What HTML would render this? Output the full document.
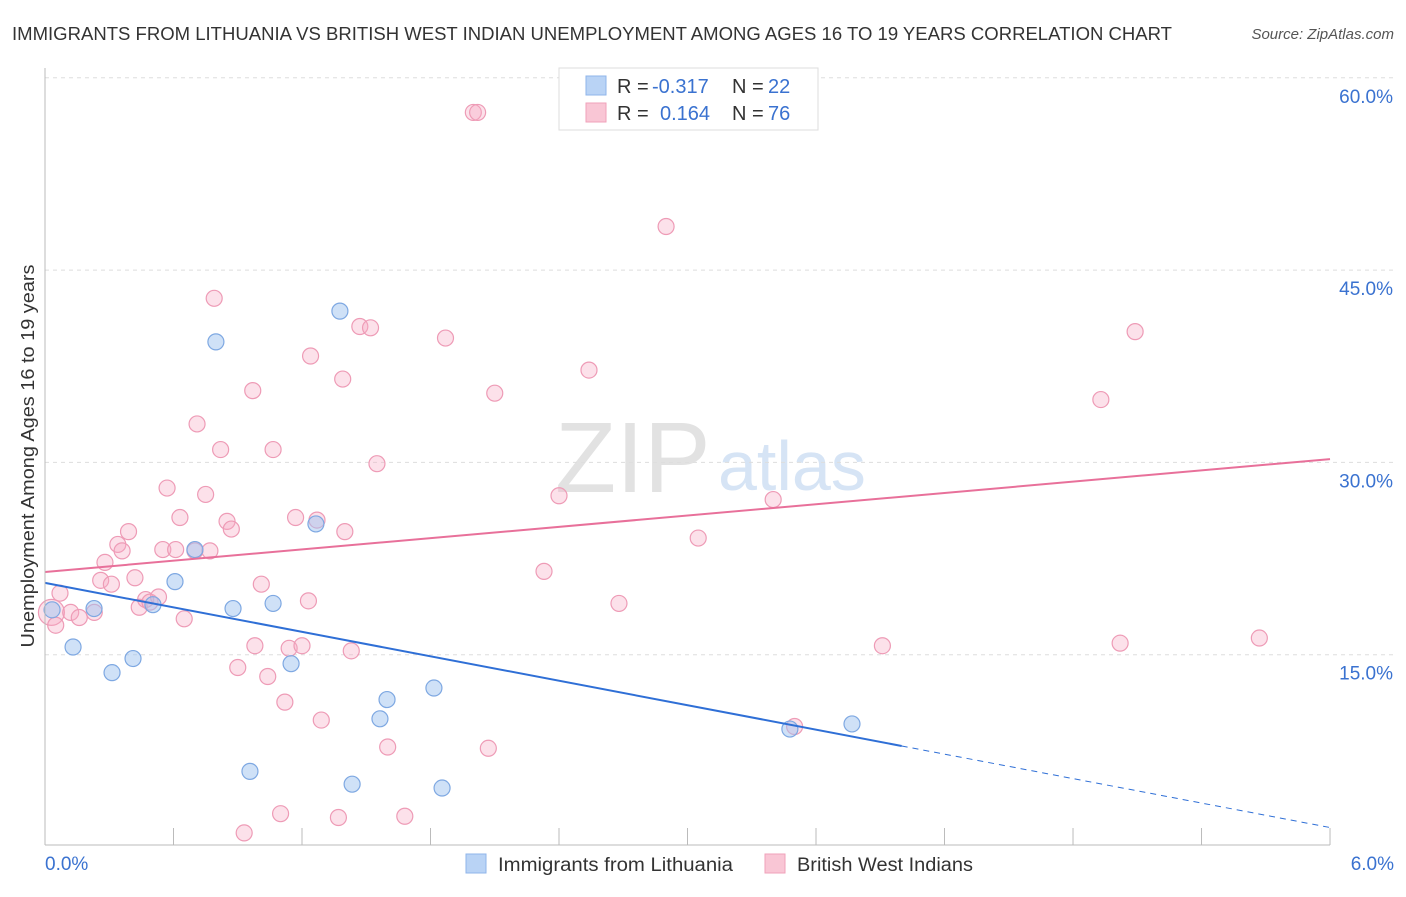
<!DOCTYPE html>
<html><head><meta charset="utf-8"><style>
body{margin:0;background:#fff;font-family:"Liberation Sans",sans-serif;}
svg text{font-family:"Liberation Sans",sans-serif;}
</style></head><body>
<svg id="chart" width="1406" height="892" xmlns="http://www.w3.org/2000/svg">
<text x="12" y="40" font-size="18" fill="#333" textLength="1160" lengthAdjust="spacingAndGlyphs">IMMIGRANTS FROM LITHUANIA VS BRITISH WEST INDIAN UNEMPLOYMENT AMONG AGES 16 TO 19 YEARS CORRELATION CHART</text>
<text x="1394" y="39" font-size="15" fill="#555" font-style="italic" text-anchor="end">Source: ZipAtlas.com</text>
<text x="34" y="456" font-size="18" fill="#333" text-anchor="middle" textLength="383" lengthAdjust="spacingAndGlyphs" transform="rotate(-90 34 456)">Unemployment Among Ages 16 to 19 years</text>
<text x="555" y="492" font-size="100" fill="#e2e2e2" font-family="Liberation Serif">ZIP</text>
<text x="718" y="490" font-size="70" fill="#d6e4f5">atlas</text>
<g id="grid"></g><g id="pink"></g><g id="blue"></g><g id="lines"></g>
<line x1="45" y1="68" x2="45" y2="845" stroke="#bbb"/>
<line x1="45" y1="845" x2="1330" y2="845" stroke="#bbb"/>
<text x="45" y="870" font-size="19" fill="#3a72d0">0.0%</text>
<text x="1394" y="870" font-size="19" fill="#3a72d0" text-anchor="end">6.0%</text>
<g>
<rect x="559" y="68" width="259" height="62" fill="#fff" stroke="#ddd"/>
<rect x="586" y="76" width="20" height="19" fill="#b9d3f5" stroke="#8fb5ea"/>
<rect x="586" y="103" width="20" height="19" fill="#f9c6d5" stroke="#f0a2ba"/>
<text x="617" y="93" font-size="20" fill="#333">R = <tspan x="652" fill="#3a72d0">-0.317</tspan><tspan x="732">N = </tspan><tspan x="768" fill="#3a72d0">22</tspan></text>
<text x="617" y="120" font-size="20" fill="#333">R = <tspan x="660" fill="#3a72d0">0.164</tspan><tspan x="732">N = </tspan><tspan x="768" fill="#3a72d0">76</tspan></text>
</g>
<g>
<rect x="466" y="854" width="20" height="19" fill="#b9d3f5" stroke="#8fb5ea"/>
<text x="498" y="871" font-size="19" fill="#333" textLength="235" lengthAdjust="spacingAndGlyphs">Immigrants from Lithuania</text>
<rect x="765" y="854" width="20" height="19" fill="#f9c6d5" stroke="#f0a2ba"/>
<text x="797" y="871" font-size="19" fill="#333" textLength="176" lengthAdjust="spacingAndGlyphs">British West Indians</text>
</g>
</svg>
<script>
const yTicks=[15,30,45,60];
const xTickVals=[0,0.6,1.2,1.8,2.4,3.0,3.6,4.2,4.8,5.4,6.0];
const blueX=[.033,.131,.229,.313,.411,.504,.607,.70,.798,.878,.957,1.065,1.149,1.265,1.377,1.434,1.564,1.597,1.816,1.854,3.478,3.768];
const blueY=[18.5,15.6,18.6,13.6,14.7,18.9,20.7,23.2,39.4,18.6,5.9,19.0,14.3,25.2,41.8,4.9,10.0,11.5,12.4,4.6,9.2,9.6];
const pinkX=[.03,.05,.07,.12,.16,.23,.26,.28,.31,.34,.36,.39,.42,.44,.47,.49,.53,.55,.57,.61,.63,.65,.70,.71,.75,.77,.79,.82,.85,.87,.90,.93,.97,.98,1.01,1.04,1.065,1.10,1.12,1.14,1.17,1.20,1.23,1.27,1.29,1.24,1.37,1.39,1.40,1.43,1.47,1.52,1.55,1.60,1.68,1.87,2.00,2.02,2.07,2.10,2.33,2.40,2.54,2.68,2.90,3.05,3.40,3.50,3.91,4.93,5.02,5.09,5.67];
const pinkY=[18.3,17.3,19.8,18.3,17.9,18.3,20.8,22.2,20.5,23.6,23.1,24.6,21.0,18.7,19.3,19.1,19.5,23.2,28.0,23.2,25.7,17.8,23.1,33.0,27.5,23.1,42.8,31.0,25.4,24.8,14.0,1.1,35.6,15.7,20.5,13.3,31.0,2.6,11.3,15.5,25.7,15.7,19.2,25.5,9.9,38.3,2.3,36.5,24.6,15.3,40.6,40.5,29.9,7.8,2.4,39.7,57.3,57.3,7.7,35.4,21.5,27.4,37.2,19.0,48.4,24.1,27.1,9.4,15.7,34.9,15.9,40.2,16.3];
const blueLine=[20.6,-3.18,4.0];
const pinkLine=[21.45,30.26];
const X=v=>45+v*214.17, Y=v=>847-v*12.82;
const NS="http://www.w3.org/2000/svg";
function mk(t,a,p){const e=document.createElementNS(NS,t);for(const k in a)e.setAttribute(k,a[k]);document.getElementById(p).appendChild(e);return e;}
yTicks.forEach(t=>{
 const l=mk('line',{x1:45,x2:1394,y1:Y(t),y2:Y(t),stroke:'#ddd','stroke-dasharray':'4,4'},'grid');
 
 
 const s=mk('text',{x:1393,y:Y(t)+25,'font-size':19,fill:'#3a72d0','text-anchor':'end'},'grid');
 s.textContent=t.toFixed(1)+'%';
 
 
});
xTickVals.forEach(t=>{
 const l=mk('line',{x1:X(t),x2:X(t),y1:828,y2:845,stroke:'#bbb'},'grid');
 
 
});
pinkX.forEach((x,i)=>{
 const c=mk('circle',{cx:X(x),cy:Y(pinkY[i]),r:i==0?13:8,fill:'rgba(247,170,195,0.35)',stroke:'#ee9bb6','stroke-width':1.2},'pink');
 
 
});
blueX.forEach((x,i)=>{
 const c=mk('circle',{cx:X(x),cy:Y(blueY[i]),r:8,fill:'rgba(160,195,240,0.5)',stroke:'#7ea8e2','stroke-width':1.2},'blue');
 
 
});
const bf=x=>blueLine[0]+blueLine[1]*x;
let a=mk('line',{x1:X(0),y1:Y(bf(0)),x2:X(blueLine[2]),y2:Y(bf(blueLine[2])),stroke:'#2f6fd6','stroke-width':2},'lines');


a=mk('line',{x1:X(blueLine[2]),y1:Y(bf(blueLine[2])),x2:X(6),y2:Y(bf(6)),stroke:'#2f6fd6','stroke-width':1,'stroke-dasharray':'6,5'},'lines');


a=mk('line',{x1:X(0),y1:Y(pinkLine[0]),x2:X(6),y2:Y(pinkLine[1]),stroke:'#e8709a','stroke-width':2},'lines');


</script>
</body></html>
